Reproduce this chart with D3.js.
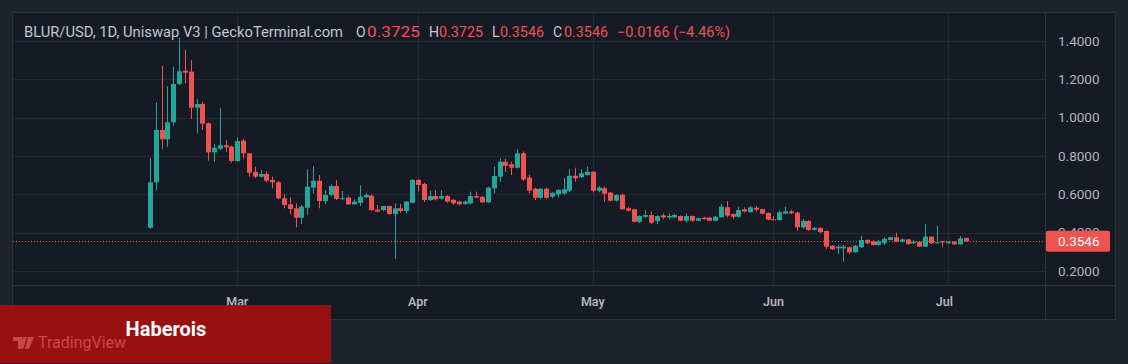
<!DOCTYPE html>
<html><head><meta charset="utf-8">
<script src="https://cdn.jsdelivr.net/npm/d3@7"></script>
<style>
html,body{margin:0;padding:0;background:#1e222d;}
svg{display:block;}
text{font-family:Roboto,"Noto Sans",sans-serif;}
</style></head><body>
<svg id="c" width="1128" height="364"></svg>
<script>
// ---- DATA (BLUR/USD daily, Feb 14 2023 .. Jul 4 2023) ----
const startDate = "2023-02-14";
const opens = [.426,.663,.936,.887,.976,1.176,1.245,1.240,1.052,1.071,.971,.819,.838,.856,.849,.774,.880,.814,.718,.692,.706,.675,.663,.579,.548,.527,.478,.530,.635,.671,.565,.597,.643,.576,.583,.548,.556,.585,.593,.520,.518,.539,.497,.527,.513,.556,.675,.654,.570,.591,.578,.591,.571,.562,.550,.553,.591,.587,.558,.631,.692,.770,.757,.739,.814,.687,.629,.582,.629,.588,.600,.605,.619,.697,.689,.701,.718,.619,.632,.609,.567,.597,.527,.522,.457,.483,.492,.460,.490,.480,.480,.487,.462,.487,.462,.478,.478,.462,.480,.532,.497,.483,.522,.507,.530,.523,.503,.470,.466,.499,.511,.504,.428,.461,.415,.425,.409,.332,.318,.318,.324,.298,.324,.362,.355,.336,.345,.362,.376,.353,.365,.345,.353,.327,.379,.345,.356,.345,.353,.339,.3725];
const highs = [.791,1.078,1.270,1.165,1.266,1.416,1.353,1.301,1.097,1.083,.975,.863,1.052,.883,.855,.898,.890,.815,.744,.727,.720,.692,.670,.602,.585,.553,.545,.731,.748,.701,.623,.652,.675,.617,.590,.574,.649,.608,.600,.544,.540,.540,.553,.550,.565,.680,.680,.660,.619,.623,.620,.595,.575,.567,.567,.614,.614,.590,.640,.744,.788,.785,.770,.835,.824,.701,.635,.632,.635,.610,.627,.684,.731,.739,.731,.744,.720,.643,.640,.612,.600,.605,.535,.525,.490,.518,.510,.490,.500,.500,.500,.490,.500,.490,.478,.483,.483,.487,.550,.564,.500,.535,.532,.540,.540,.525,.505,.487,.515,.535,.520,.510,.470,.465,.428,.427,.410,.335,.336,.336,.327,.335,.384,.365,.360,.362,.376,.378,.400,.370,.367,.362,.355,.444,.380,.435,.357,.355,.355,.382,.3725];
const lows = [.420,.623,.837,.849,.958,1.170,1.179,.993,.918,.936,.775,.770,.831,.822,.765,.770,.788,.692,.685,.688,.661,.631,.574,.527,.497,.428,.445,.492,.605,.527,.550,.590,.570,.570,.545,.545,.540,.580,.513,.506,.513,.495,.263,.504,.500,.553,.614,.560,.565,.568,.572,.557,.545,.543,.545,.548,.580,.555,.555,.605,.666,.718,.700,.735,.670,.605,.570,.574,.574,.580,.583,.597,.612,.666,.685,.697,.610,.611,.562,.562,.562,.520,.510,.453,.450,.475,.445,.445,.470,.470,.476,.460,.452,.457,.460,.468,.460,.460,.478,.480,.472,.478,.505,.505,.510,.495,.465,.466,.463,.497,.497,.410,.420,.410,.410,.398,.315,.310,.289,.249,.289,.295,.320,.340,.333,.333,.336,.360,.350,.350,.334,.340,.325,.325,.340,.343,.324,.343,.336,.336,.3546];
const closes = [.663,.936,.887,.976,1.176,1.242,1.235,1.052,1.071,.969,.819,.843,.856,.845,.774,.878,.814,.713,.692,.706,.671,.663,.579,.544,.523,.478,.536,.640,.671,.565,.597,.643,.576,.580,.548,.562,.588,.597,.518,.510,.539,.497,.527,.513,.562,.675,.649,.570,.591,.574,.591,.562,.553,.548,.562,.591,.583,.558,.635,.696,.770,.749,.739,.814,.678,.619,.582,.629,.582,.608,.623,.626,.697,.684,.710,.718,.619,.635,.603,.567,.597,.522,.515,.457,.487,.492,.452,.487,.480,.487,.492,.462,.487,.462,.475,.471,.462,.483,.536,.489,.483,.518,.510,.532,.520,.499,.468,.468,.506,.511,.501,.428,.462,.414,.425,.403,.327,.313,.327,.327,.298,.332,.362,.345,.336,.355,.367,.376,.353,.365,.341,.353,.327,.379,.345,.350,.350,.353,.339,.370,.3546];
const yTicks = [0.2,0.4,0.6,0.8,1.0,1.2,1.4];
const monthTicks = ["2023-03-01","2023-04-01","2023-05-01","2023-06-01","2023-07-01"];
const monthLabels = ["Mar","Apr","May","Jun","Jul"];
const lastPrice = 0.3546;
const header = {pair:"BLUR/USD, 1D, Uniswap V3 | GeckoTerminal.com", o:"0.3725", h:"0.3725", l:"0.3546", c:"0.3546", chg:"\u22120.0166 (\u22124.46%)"};

// ---- LAYOUT ----
const W=1128,H=364;
const plot={x0:13,x1:1045,y0:13,y1:285};
const frame={x0:12,y0:12,x1:1115,y1:319};
const UP="#26a69a", DOWN="#ef5350";
const TXT="#b2b5be", HTXT="#c3c6ce", GRID="#242834", BORDER="#2e323e";

const svg=d3.select("#c");
const parse=d3.utcParse("%Y-%m-%d");
const d0=parse(startDate);
const data=opens.map((o,i)=>({date:d3.utcDay.offset(d0,i),o,h:highs[i],l:lows[i],c:closes[i]}));

const x=d3.scaleUtc().domain([parse("2023-03-01"),parse("2023-07-01")]).range([237.3,948.3]);
const y=d3.scaleLinear().domain([0.2,1.4]).range([271,41]);

// backgrounds
svg.append("rect").attr("width",W).attr("height",H).attr("fill","#1e222d");
svg.append("rect").attr("x",frame.x0+0.5).attr("y",frame.y0+0.5).attr("width",frame.x1-frame.x0).attr("height",frame.y1-frame.y0)
  .attr("fill","#161a25").attr("stroke",BORDER).attr("stroke-width",1).attr("shape-rendering","crispEdges");

svg.append("clipPath").attr("id","pc").append("rect")
  .attr("x",plot.x0).attr("y",plot.y0).attr("width",plot.x1-plot.x0).attr("height",plot.y1-plot.y0);

// grid
const g=svg.append("g").attr("shape-rendering","crispEdges");
g.selectAll("line.h").data(yTicks).join("line")
  .attr("x1",plot.x0).attr("x2",plot.x1).attr("y1",d=>Math.round(y(d))+0.5).attr("y2",d=>Math.round(y(d))+0.5)
  .attr("stroke",GRID);
g.selectAll("line.v").data(monthTicks).join("line")
  .attr("x1",d=>Math.round(x(parse(d)))+0.5).attr("x2",d=>Math.round(x(parse(d)))+0.5)
  .attr("y1",plot.y0).attr("y2",plot.y1).attr("stroke",GRID);

// separators
svg.append("line").attr("x1",plot.x1+0.5).attr("x2",plot.x1+0.5).attr("y1",frame.y0).attr("y2",frame.y1).attr("stroke",BORDER);
svg.append("line").attr("x1",frame.x0).attr("x2",frame.x1).attr("y1",plot.y1+0.5).attr("y2",plot.y1+0.5).attr("stroke",BORDER);

// last price line
svg.append("line").attr("x1",plot.x0).attr("x2",plot.x1).attr("y1",Math.round(y(lastPrice))+0.5).attr("y2",Math.round(y(lastPrice))+0.5)
  .attr("stroke",DOWN).attr("stroke-width",1).attr("stroke-dasharray","1,2");

// candles
const cg=svg.append("g").attr("clip-path","url(#pc)");
const cand=cg.selectAll("g.c").data(data).join("g");
cand.append("line")
  .attr("x1",d=>Math.round(x(d.date))+0.5).attr("x2",d=>Math.round(x(d.date))+0.5)
  .attr("y1",d=>y(d.h)).attr("y2",d=>y(d.l))
  .attr("stroke",d=>d.c>=d.o?UP:DOWN).attr("stroke-width",1);
cand.append("rect")
  .attr("x",d=>Math.round(x(d.date))-2).attr("width",5)
  .attr("y",d=>y(Math.max(d.o,d.c))).attr("height",d=>Math.max(1,Math.abs(y(d.o)-y(d.c))))
  .attr("fill",d=>d.c>=d.o?UP:DOWN);

// y axis labels
svg.append("g").selectAll("text").data(yTicks).join("text")
  .attr("x",1058).attr("y",d=>y(d)).attr("dy","0.35em")
  .attr("fill",TXT).attr("font-size",13.5).text(d=>d3.format(".4f")(d));

// last price tag
const ly=y(lastPrice);
svg.append("rect").attr("x",1046).attr("y",ly-10.5).attr("width",64).attr("height",21).attr("rx",2).attr("fill",DOWN);
svg.append("text").attr("x",1058).attr("y",ly).attr("dy","0.35em").attr("fill","#ffffff").attr("font-size",13.5).text(d3.format(".4f")(lastPrice));

// x axis labels
svg.append("g").selectAll("text").data(monthTicks).join("text")
  .attr("x",(d,i)=>x(parse(d))-(i===4?4:0)).attr("y",302).attr("dy","0.35em").attr("text-anchor","middle")
  .attr("fill",TXT).attr("font-size",12.5).attr("font-weight",600).text((d,i)=>monthLabels[i]);

// header
const seg=[[header.pair,HTXT,24,319],["O",HTXT,356,0],[header.o,DOWN,367,53],["H",HTXT,429,0],[header.h,DOWN,439,44],["L",HTXT,492,0],[header.l,DOWN,500,44],["C",HTXT,553,0],[header.c,DOWN,564,44],[header.chg,DOWN,617,113]];
const hg=svg.append("g");
seg.forEach(s=>{
  const t=hg.append("text").attr("x",s[2]).attr("y",32).attr("dy","0.35em").attr("font-size",14).attr("fill",s[1]).text(s[0]);
  if(s[3]) t.attr("textLength",s[3]).attr("lengthAdjust","spacingAndGlyphs");
});

// watermark + overlay
svg.append("rect").attr("x",0).attr("y",305).attr("width",331).attr("height",58).attr("fill","#a01010").attr("opacity",0.95);
svg.append("text").attr("x",38).attr("y",342).attr("dy","0.35em").attr("fill","#c94848").attr("font-size",16).text("TradingView");
svg.append("path").attr("transform","translate(13,336)").attr("d","M0,1 h9 v12 h-4 v-8 h-5 z M10,1 h4 l-4,12 h-4 z M15,1 h6 l-5,12 h-4 z").attr("fill","#c94848");
svg.append("text").attr("x",166).attr("y",329).attr("dy","0.35em").attr("text-anchor","middle").attr("fill","#ffffff")
  .attr("font-size",20).attr("font-weight",700).text("Haberois");
</script></body></html>
